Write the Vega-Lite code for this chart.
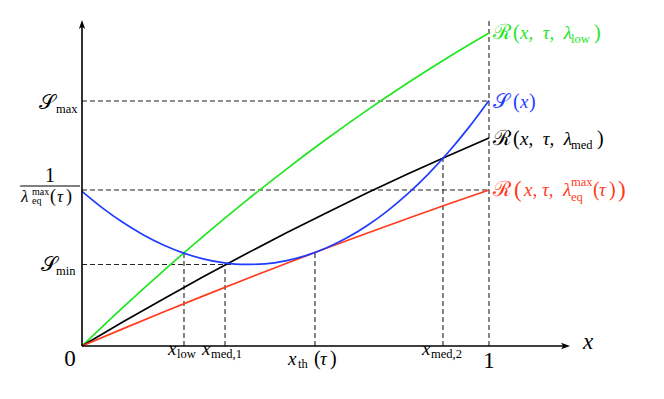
{
  "$schema": "https://vega.github.io/schema/vega-lite/v6.json",
  "width": 664,
  "height": 399,
  "padding": 0,
  "autosize": {"type": "none"},
  "background": "white",
  "config": {"view": {"stroke": null}},
  "datasets": {
    "curves": [
      {"c": "low", "x": 0, "y": 0}, {"c": "low", "x": 0.1, "y": 0.384}, {"c": "low", "x": 0.2, "y": 0.752}, {"c": "low", "x": 0.3, "y": 1.104}, {"c": "low", "x": 0.4, "y": 1.441}, {"c": "low", "x": 0.5, "y": 1.762}, {"c": "low", "x": 0.6, "y": 2.067}, {"c": "low", "x": 0.7, "y": 2.356}, {"c": "low", "x": 0.8, "y": 2.63}, {"c": "low", "x": 0.9, "y": 2.888}, {"c": "low", "x": 1.0, "y": 3.13},
      {"c": "med", "x": 0, "y": 0}, {"c": "med", "x": 0.1, "y": 0.239}, {"c": "med", "x": 0.2, "y": 0.471}, {"c": "med", "x": 0.3, "y": 0.697}, {"c": "med", "x": 0.4, "y": 0.915}, {"c": "med", "x": 0.5, "y": 1.127}, {"c": "med", "x": 0.6, "y": 1.331}, {"c": "med", "x": 0.7, "y": 1.529}, {"c": "med", "x": 0.8, "y": 1.72}, {"c": "med", "x": 0.9, "y": 1.903}, {"c": "med", "x": 1.0, "y": 2.08},
      {"c": "eq", "x": 0, "y": 0}, {"c": "eq", "x": 0.1, "y": 0.1714}, {"c": "eq", "x": 0.2, "y": 0.3395}, {"c": "eq", "x": 0.3, "y": 0.5041}, {"c": "eq", "x": 0.4, "y": 0.6652}, {"c": "eq", "x": 0.5, "y": 0.8229}, {"c": "eq", "x": 0.6, "y": 0.9772}, {"c": "eq", "x": 0.7, "y": 1.128}, {"c": "eq", "x": 0.8, "y": 1.2755}, {"c": "eq", "x": 0.9, "y": 1.4194}, {"c": "eq", "x": 1.0, "y": 1.56},
      {"c": "S", "x": 0, "y": 1.5466}, {"c": "S", "x": 0.05, "y": 1.3814}, {"c": "S", "x": 0.1, "y": 1.2367}, {"c": "S", "x": 0.15, "y": 1.1129}, {"c": "S", "x": 0.2, "y": 1.0101}, {"c": "S", "x": 0.25, "y": 0.9287}, {"c": "S", "x": 0.3, "y": 0.869}, {"c": "S", "x": 0.35, "y": 0.8311}, {"c": "S", "x": 0.4, "y": 0.8155}, {"c": "S", "x": 0.45, "y": 0.8222}, {"c": "S", "x": 0.5, "y": 0.8517}, {"c": "S", "x": 0.55, "y": 0.9042}, {"c": "S", "x": 0.6, "y": 0.9799}, {"c": "S", "x": 0.65, "y": 1.0792}, {"c": "S", "x": 0.7, "y": 1.2022}, {"c": "S", "x": 0.75, "y": 1.3494}, {"c": "S", "x": 0.8, "y": 1.5208}, {"c": "S", "x": 0.85, "y": 1.7169}, {"c": "S", "x": 0.9, "y": 1.9378}, {"c": "S", "x": 0.95, "y": 2.1839}, {"c": "S", "x": 1.0, "y": 2.4555}
    ],
    "dash": [
      {"x": 0, "y": 2.45, "x2": 1, "y2": 2.45},
      {"x": 0, "y": 1.56, "x2": 1, "y2": 1.56},
      {"x": 0, "y": 0.815, "x2": 0.4, "y2": 0.815},
      {"x": 0.2506, "y": 0, "x2": 0.2506, "y2": 0.93},
      {"x": 0.3514, "y": 0, "x2": 0.3514, "y2": 0.815},
      {"x": 0.5725, "y": 0, "x2": 0.5725, "y2": 0.935},
      {"x": 0.887, "y": 0, "x2": 0.887, "y2": 1.88},
      {"x": 1, "y": 0, "x2": 1, "y2": 3.28}
    ],
    "axes": [
      {"x": 0, "y": 0, "x2": 1.188, "y2": 0},
      {"x": 0, "y": 0, "x2": 0, "y2": 3.215}
    ],
    "arrowX": [{"x": 1.188, "y": 0}],
    "arrowY": [{"x": 0, "y": 3.215}],
    "bar": [{"x": -0.152, "y": 1.6, "x2": -0.005}],
    "tScript": [
      {"text": "ℛ", "x": 1.0098, "y": 3.07, "c": "low"},
      {"text": "𝒮", "x": 1.0098, "y": 2.38, "c": "S"},
      {"text": "ℛ", "x": 1.0098, "y": 2.01, "c": "med"},
      {"text": "ℛ", "x": 1.0098, "y": 1.5, "c": "eq"},
      {"text": "𝒮", "x": -0.1057, "y": 2.37, "c": "k"},
      {"text": "𝒮", "x": -0.1007, "y": 0.75, "c": "k"}
    ],
    "tNorm": [
      {"text": "(", "x": 1.059, "y": 3.07, "c": "low"},
      {"text": ")", "x": 1.258, "y": 3.07, "c": "low"},
      {"text": "(", "x": 1.059, "y": 2.38, "c": "S"},
      {"text": ")", "x": 1.0983, "y": 2.38, "c": "S"},
      {"text": "(", "x": 1.059, "y": 2.01, "c": "med"},
      {"text": ")", "x": 1.2654, "y": 2.01, "c": "med"},
      {"text": "(", "x": 1.2555, "y": 1.5, "c": "eq"},
      {"text": ")", "x": 1.2948, "y": 1.5, "c": "eq"},
      {"text": "1", "x": -0.0909, "y": 1.64, "c": "k"},
      {"text": "(", "x": 0.57, "y": -0.19, "c": "k"},
      {"text": ")", "x": 0.6093, "y": -0.19, "c": "k"}
    ],
    "tNormSmall": [
      {"text": "(", "x": -0.0786, "y": 1.44, "c": "k"},
      {"text": ")", "x": -0.0393, "y": 1.44, "c": "k"}
    ],
    "tItal": [
      {"text": "x,\u00a0\u00a0τ,\u00a0\u00a0λ", "x": 1.0762, "y": 3.07, "c": "low"},
      {"text": "x", "x": 1.0762, "y": 2.38, "c": "S"},
      {"text": "x,\u00a0\u00a0τ,\u00a0\u00a0λ", "x": 1.0762, "y": 2.01, "c": "med"},
      {"text": "x,\u00a0τ,\u00a0\u00a0λ", "x": 1.086, "y": 1.5, "c": "eq"},
      {"text": "τ", "x": 1.2703, "y": 1.5, "c": "eq"},
      {"text": "x", "x": 0.2113, "y": -0.09, "c": "k"},
      {"text": "x", "x": 0.2948, "y": -0.09, "c": "k"},
      {"text": "x", "x": 0.5061, "y": -0.19, "c": "k"},
      {"text": "τ", "x": 0.5848, "y": -0.19, "c": "k"},
      {"text": "x", "x": 0.8354, "y": -0.09, "c": "k"}
    ],
    "tItalSmall": [
      {"text": "λ", "x": -0.1499, "y": 1.44, "c": "k"},
      {"text": "τ", "x": -0.0614, "y": 1.44, "c": "k"}
    ],
    "tSub": [
      {"text": "low", "x": 1.2015, "y": 3.03, "c": "low"},
      {"text": "med", "x": 1.2015, "y": 1.97, "c": "med"},
      {"text": "max", "x": 1.2015, "y": 1.6, "c": "eq"},
      {"text": "eq", "x": 1.2015, "y": 1.45, "c": "eq"},
      {"text": "max", "x": -0.0639, "y": 2.33, "c": "k"},
      {"text": "min", "x": -0.0639, "y": 0.71, "c": "k"},
      {"text": "low", "x": 0.2334, "y": -0.12, "c": "k"},
      {"text": "med,1", "x": 0.317, "y": -0.12, "c": "k"},
      {"text": "th", "x": 0.5307, "y": -0.22, "c": "k"},
      {"text": "med,2", "x": 0.8575, "y": -0.12, "c": "k"}
    ],
    "tSubSmall": [
      {"text": "max", "x": -0.1229, "y": 1.51, "c": "k"},
      {"text": "eq", "x": -0.1229, "y": 1.42, "c": "k"}
    ],
    "tBig": [
      {"text": "0", "x": -0.0295, "y": -0.2, "c": "k"},
      {"text": "1", "x": 1, "y": -0.22, "c": "k"}
    ],
    "tBigItal": [
      {"text": "x", "x": 1.231, "y": -0.03, "c": "k"}
    ],
    "tParen": [
      {"text": "(", "x": 1.0614, "y": 1.49, "c": "eq"},
      {"text": ")", "x": 1.317, "y": 1.49, "c": "eq"}
    ]
  },
  "encoding": {
    "x": {"field": "x", "type": "quantitative", "scale": {"domain": [-0.20147, 1.43], "nice": false, "zero": false}, "axis": null},
    "y": {"field": "y", "type": "quantitative", "scale": {"domain": [-0.53, 3.46], "nice": false, "zero": false}, "axis": null}
  },
  "layer": [
    {
      "data": {"name": "dash"},
      "mark": {"type": "rule", "color": "#222222", "strokeWidth": 1.1, "strokeDash": [5, 3]},
      "encoding": {"x2": {"field": "x2"}, "y2": {"field": "y2"}}
    },
    {
      "data": {"name": "curves"},
      "mark": {"type": "line", "interpolate": "monotone", "strokeWidth": 1.7},
      "encoding": {
        "color": {"field": "c", "type": "nominal", "legend": null, "scale": {"domain": ["low", "med", "eq", "S", "k"], "range": ["#1fe61f", "#000000", "#ff3b1d", "#1f3dff", "#000000"]}},
        "detail": {"field": "c"}
      }
    },
    {
      "data": {"name": "axes"},
      "mark": {"type": "rule", "color": "#000000", "strokeWidth": 1.6},
      "encoding": {"x2": {"field": "x2"}, "y2": {"field": "y2"}}
    },
    {
      "data": {"name": "arrowX"},
      "mark": {"type": "point", "shape": "M1,0L-1,-0.7L-0.5,0L-1,0.7Z", "size": 81, "filled": true, "color": "#000000", "opacity": 1}
    },
    {
      "data": {"name": "arrowY"},
      "mark": {"type": "point", "shape": "M0,-1L-0.7,1L0,0.5L0.7,1Z", "size": 81, "filled": true, "color": "#000000", "opacity": 1}
    },
    {
      "data": {"name": "bar"},
      "mark": {"type": "rule", "color": "#000000", "strokeWidth": 1},
      "encoding": {"x2": {"field": "x2"}}
    },
    {
      "data": {"name": "tScript"},
      "mark": {"type": "text", "font": "Liberation Serif", "fontSize": 21, "align": "left", "baseline": "alphabetic"},
      "encoding": {
        "text": {"field": "text"},
        "color": {"field": "c", "type": "nominal", "legend": null, "scale": {"domain": ["low", "med", "eq", "S", "k"], "range": ["#1fe61f", "#000000", "#ff3b1d", "#1f3dff", "#000000"]}}
      }
    },
    {
      "data": {"name": "tNorm"},
      "mark": {"type": "text", "font": "Liberation Serif", "fontSize": 20, "align": "left", "baseline": "alphabetic"},
      "encoding": {
        "text": {"field": "text"},
        "color": {"field": "c", "type": "nominal", "legend": null, "scale": {"domain": ["low", "med", "eq", "S", "k"], "range": ["#1fe61f", "#000000", "#ff3b1d", "#1f3dff", "#000000"]}}
      }
    },
    {
      "data": {"name": "tNormSmall"},
      "mark": {"type": "text", "font": "Liberation Serif", "fontSize": 18, "align": "left", "baseline": "alphabetic"},
      "encoding": {
        "text": {"field": "text"},
        "color": {"field": "c", "type": "nominal", "legend": null, "scale": {"domain": ["low", "med", "eq", "S", "k"], "range": ["#1fe61f", "#000000", "#ff3b1d", "#1f3dff", "#000000"]}}
      }
    },
    {
      "data": {"name": "tItal"},
      "mark": {"type": "text", "font": "Liberation Serif", "fontStyle": "italic", "fontSize": 19, "align": "left", "baseline": "alphabetic"},
      "encoding": {
        "text": {"field": "text"},
        "color": {"field": "c", "type": "nominal", "legend": null, "scale": {"domain": ["low", "med", "eq", "S", "k"], "range": ["#1fe61f", "#000000", "#ff3b1d", "#1f3dff", "#000000"]}}
      }
    },
    {
      "data": {"name": "tItalSmall"},
      "mark": {"type": "text", "font": "Liberation Serif", "fontStyle": "italic", "fontSize": 17, "align": "left", "baseline": "alphabetic"},
      "encoding": {
        "text": {"field": "text"},
        "color": {"field": "c", "type": "nominal", "legend": null, "scale": {"domain": ["low", "med", "eq", "S", "k"], "range": ["#1fe61f", "#000000", "#ff3b1d", "#1f3dff", "#000000"]}}
      }
    },
    {
      "data": {"name": "tSub"},
      "mark": {"type": "text", "font": "Liberation Serif", "fontSize": 12.5, "align": "left", "baseline": "alphabetic"},
      "encoding": {
        "text": {"field": "text"},
        "color": {"field": "c", "type": "nominal", "legend": null, "scale": {"domain": ["low", "med", "eq", "S", "k"], "range": ["#1fe61f", "#000000", "#ff3b1d", "#1f3dff", "#000000"]}}
      }
    },
    {
      "data": {"name": "tSubSmall"},
      "mark": {"type": "text", "font": "Liberation Serif", "fontSize": 10, "align": "left", "baseline": "alphabetic"},
      "encoding": {
        "text": {"field": "text"},
        "color": {"field": "c", "type": "nominal", "legend": null, "scale": {"domain": ["low", "med", "eq", "S", "k"], "range": ["#1fe61f", "#000000", "#ff3b1d", "#1f3dff", "#000000"]}}
      }
    },
    {
      "data": {"name": "tBig"},
      "mark": {"type": "text", "font": "Liberation Serif", "fontSize": 23, "align": "center", "baseline": "alphabetic"},
      "encoding": {
        "text": {"field": "text"},
        "color": {"field": "c", "type": "nominal", "legend": null, "scale": {"domain": ["low", "med", "eq", "S", "k"], "range": ["#1fe61f", "#000000", "#ff3b1d", "#1f3dff", "#000000"]}}
      }
    },
    {
      "data": {"name": "tBigItal"},
      "mark": {"type": "text", "font": "Liberation Serif", "fontStyle": "italic", "fontSize": 23, "align": "left", "baseline": "alphabetic"},
      "encoding": {
        "text": {"field": "text"},
        "color": {"field": "c", "type": "nominal", "legend": null, "scale": {"domain": ["low", "med", "eq", "S", "k"], "range": ["#1fe61f", "#000000", "#ff3b1d", "#1f3dff", "#000000"]}}
      }
    },
    {
      "data": {"name": "tParen"},
      "mark": {"type": "text", "font": "Liberation Serif", "fontSize": 23, "align": "left", "baseline": "alphabetic"},
      "encoding": {
        "text": {"field": "text"},
        "color": {"field": "c", "type": "nominal", "legend": null, "scale": {"domain": ["low", "med", "eq", "S", "k"], "range": ["#1fe61f", "#000000", "#ff3b1d", "#1f3dff", "#000000"]}}
      }
    }
  ]
}
